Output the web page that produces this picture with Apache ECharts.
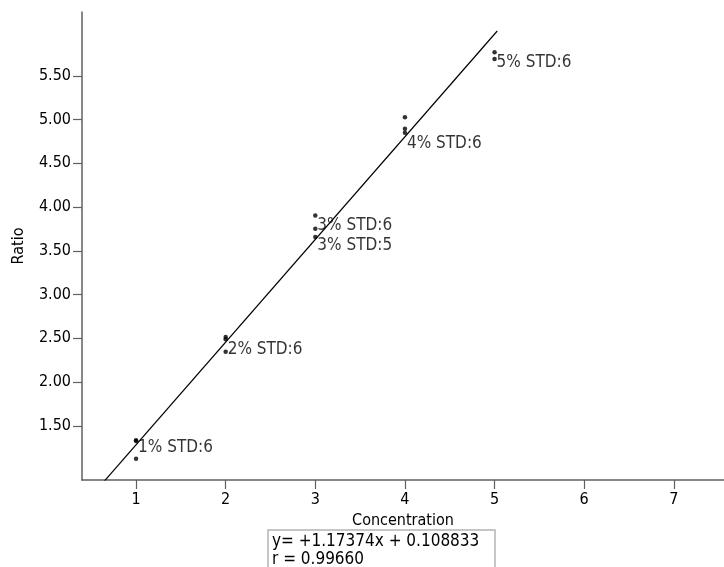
<!DOCTYPE html>
<html>
<head>
<meta charset="utf-8">
<script src="https://cdn.jsdelivr.net/npm/echarts@6/dist/echarts.min.js"></script>
<style>html,body{margin:0;padding:0;background:#fff}#c{width:724px;height:567px}</style>
</head>
<body>
<div id="c"></div>
<script>
// Data
var concentration = [1, 1, 1, 2, 2, 2, 3, 3, 3, 4, 4, 4, 5, 5];
var ratio = [1.335, 1.325, 1.123, 2.516, 2.488, 2.345, 3.905, 3.753, 3.658, 5.027, 4.895, 4.849, 5.769, 5.694];
var labelX = [1, 2, 3, 3, 4, 5];
var labelY = [1.245, 2.372, 3.783, 3.563, 4.731, 5.655];
var labelText = ['1% STD:6', '2% STD:6', '3% STD:6', '3% STD:5', '4% STD:6', '5% STD:6'];
var slope = 1.17374;
var intercept = 0.108833;
var rValue = '0.99660';
var fitX = [0.4, 5.03];
var xTicks = [1, 2, 3, 4, 5, 6, 7];
var yTicks = [1.5, 2.0, 2.5, 3.0, 3.5, 4.0, 4.5, 5.0, 5.5];

var FONT = '"DejaVu Sans Condensed", "DejaVu Sans", sans-serif';
var points = concentration.map(function (c, i) { return [c, ratio[i]]; });
var labels = labelX.map(function (x, i) { return [x, labelY[i], labelText[i]]; });
var fit = fitX.map(function (x) { return [x, slope * x + intercept]; });

var chart = echarts.init(document.getElementById('c'), null, {renderer: 'canvas'});
chart.setOption({
  animation: false,
  backgroundColor: '#ffffff',
  grid: {left: 82, top: 12, right: 0, bottom: 87, containLabel: false},
  xAxis: {
    type: 'value', min: 0.397, max: 7.56,
    name: 'Concentration', nameLocation: 'middle', nameGap: 32,
    nameTextStyle: {fontFamily: FONT, fontSize: 16, color: '#000'},
    axisLine: {show: true, lineStyle: {color: '#606060', width: 1.5}},
    axisTick: {show: true, length: 9, customValues: xTicks, lineStyle: {color: '#606060', width: 1.2}},
    axisLabel: {customValues: xTicks, margin: 12, fontFamily: FONT, fontSize: 16, color: '#000'},
    splitLine: {show: false}
  },
  yAxis: {
    type: 'value', min: 0.88, max: 6.23,
    name: 'Ratio', nameLocation: 'middle', nameGap: 55,
    nameTextStyle: {fontFamily: FONT, fontSize: 16, color: '#000'},
    axisLine: {show: true, lineStyle: {color: '#606060', width: 1.5}},
    axisTick: {show: true, length: 9, customValues: yTicks, lineStyle: {color: '#606060', width: 1.2}},
    axisLabel: {customValues: yTicks, margin: 11, fontFamily: FONT, fontSize: 16, color: '#000',
      formatter: function (v) { return v.toFixed(2); }},
    splitLine: {show: false}
  },
  series: [
    {
      type: 'line', data: fit, symbol: 'none', clip: true,
      lineStyle: {color: '#000', width: 1.2}, silent: true
    },
    {
      type: 'scatter', data: points, symbol: 'circle', symbolSize: 4.5,
      itemStyle: {color: '#000'}
    },
    {
      type: 'scatter', data: labels, symbolSize: 0, silent: true,
      label: {show: true, position: 'right', distance: 2,
        formatter: function (p) { return p.data[2]; },
        fontFamily: FONT, fontSize: 17, color: '#000'}
    }
  ],
  graphic: [
    {type: 'rect', shape: {x: 268, y: 530, width: 227, height: 50},
      style: {fill: '#fff', stroke: '#b4b4b4', lineWidth: 1.5}},
    {type: 'text', x: 272, y: 542, style: {text: 'y= +' + slope + 'x + ' + intercept,
      font: '17px "DejaVu Sans Condensed", "DejaVu Sans"', fill: '#000', verticalAlign: 'middle'}},
    {type: 'text', x: 272, y: 560, style: {text: 'r = ' + rValue,
      font: '17px "DejaVu Sans Condensed", "DejaVu Sans"', fill: '#000', verticalAlign: 'middle'}}
  ]
});
</script>
</body>
</html>
